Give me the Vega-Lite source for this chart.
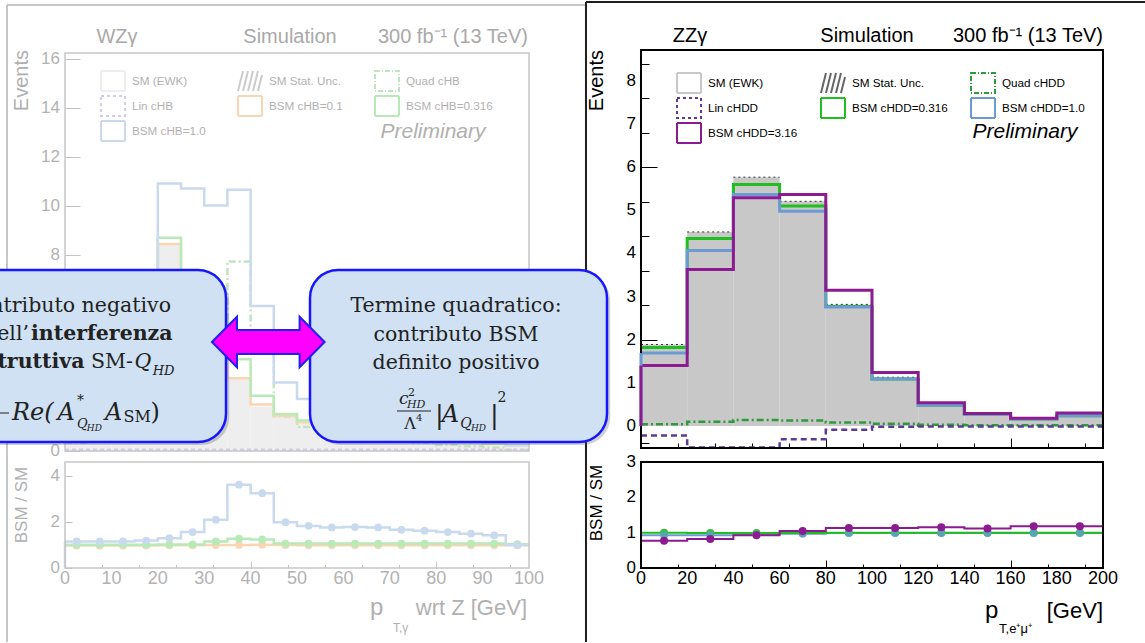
{
"$schema": "https://vega.github.io/schema/vega-lite/v6.json",
"background": "white",
"padding": 0,
"autosize": {"type": "pad"},
"bounds": "flush",
"columns": 2,
"spacing": {"row": 11, "column": 0},
"config": {"view": {"stroke": null}, "font": "Liberation Sans"},
"resolve": {"scale": {"fill": "independent", "stroke": "independent", "shape": "independent", "strokeDash": "independent"}},
"datasets": {
"one": [{"k": 1}],
"t200": [{"v":0},{"v":20},{"v":40},{"v":60},{"v":80},{"v":100},{"v":120},{"v":140},{"v":160},{"v":180},{"v":200}],
"t100": [{"v":0},{"v":10},{"v":20},{"v":30},{"v":40},{"v":50},{"v":60},{"v":70},{"v":80},{"v":90},{"v":100}],
"t8": [{"v":0},{"v":1},{"v":2},{"v":3},{"v":4},{"v":5},{"v":6},{"v":7},{"v":8}],
"t16": [{"v":0},{"v":8},{"v":10},{"v":12},{"v":14},{"v":16}],
"t3": [{"v":0},{"v":1},{"v":2},{"v":3}],
"t4": [{"v":0},{"v":2},{"v":4}],
"lgz": [{"lg": "SM (EWK)"}, {"lg": "SM Stat. Unc."}, {"lg": "Quad cHDD"}, {"lg": "Lin cHDD"}, {"lg": "BSM cHDD=0.316"}, {"lg": "BSM cHDD=1.0"}, {"lg": "BSM cHDD=3.16"}],
"lgw": [{"lg": "SM (EWK)"}, {"lg": "SM Stat. Unc."}, {"lg": "Quad cHB"}, {"lg": "Lin cHB"}, {"lg": "BSM cHB=0.1"}, {"lg": "BSM cHB=0.316"}, {"lg": "BSM cHB=1.0"}],
"zz": [
{"i":0,"x0":0,"x1":20,"xc":10,"sm":1.82,"lo":1.75,"hi":1.89,"lin":-0.22,"quad":0.04,"g":1.82,"b":1.69,"p":1.40,"rg":1.0,"rb":0.93,"rp":0.77},
{"i":1,"x0":20,"x1":40,"xc":30,"sm":4.40,"lo":4.30,"hi":4.50,"lin":-0.50,"quad":0.10,"g":4.35,"b":4.07,"p":3.63,"rg":0.99,"rb":0.93,"rp":0.82},
{"i":2,"x0":40,"x1":60,"xc":50,"sm":5.66,"lo":5.55,"hi":5.77,"lin":-0.50,"quad":0.14,"g":5.60,"b":5.37,"p":5.29,"rg":0.99,"rb":0.95,"rp":0.93},
{"i":3,"x0":60,"x1":80,"xc":70,"sm":5.13,"lo":5.05,"hi":5.21,"lin":-0.31,"quad":0.13,"g":5.10,"b":4.98,"p":5.37,"rg":0.99,"rb":0.97,"rp":1.05},
{"i":4,"x0":80,"x1":100,"xc":90,"sm":2.78,"lo":2.74,"hi":2.82,"lin":-0.09,"quad":0.08,"g":2.77,"b":2.76,"p":3.15,"rg":1.0,"rb":0.99,"rp":1.13},
{"i":5,"x0":100,"x1":120,"xc":110,"sm":1.10,"lo":1.07,"hi":1.13,"lin":-0.02,"quad":0.05,"g":1.09,"b":1.09,"p":1.24,"rg":1.0,"rb":0.99,"rp":1.13},
{"i":6,"x0":120,"x1":140,"xc":130,"sm":0.49,"lo":0.47,"hi":0.51,"lin":-0.01,"quad":0.03,"g":0.48,"b":0.48,"p":0.54,"rg":1.0,"rb":0.99,"rp":1.15},
{"i":7,"x0":140,"x1":160,"xc":150,"sm":0.27,"lo":0.26,"hi":0.28,"lin":-0.01,"quad":0.02,"g":0.27,"b":0.27,"p":0.29,"rg":1.0,"rb":0.99,"rp":1.12},
{"i":8,"x0":160,"x1":180,"xc":170,"sm":0.16,"lo":0.15,"hi":0.17,"lin":-0.01,"quad":0.02,"g":0.16,"b":0.16,"p":0.18,"rg":1.0,"rb":0.99,"rp":1.18},
{"i":9,"x0":180,"x1":200,"xc":190,"sm":0.25,"lo":0.24,"hi":0.26,"lin":-0.01,"quad":0.02,"g":0.24,"b":0.24,"p":0.30,"rg":1.0,"rb":0.99,"rp":1.18}
],
"wz": [
{"i":0,"x0":0,"x1":5,"xc":2.5,"sm":2.0,"o":2.0,"g":2.04,"b":2.32,"lin":0.03,"quad":0.32,"ro":0.98,"rg":1.02,"rb":1.16},
{"i":1,"x0":5,"x1":10,"xc":7.5,"sm":3.4,"o":3.38,"g":3.47,"b":3.94,"lin":0.03,"quad":0.54,"ro":0.98,"rg":1.02,"rb":1.16},
{"i":2,"x0":10,"x1":15,"xc":12.5,"sm":4.8,"o":4.77,"g":4.9,"b":5.57,"lin":0.03,"quad":0.77,"ro":0.98,"rg":1.02,"rb":1.16},
{"i":3,"x0":15,"x1":20,"xc":17.5,"sm":6.0,"o":5.96,"g":6.12,"b":7.2,"lin":0.03,"quad":1.2,"ro":0.98,"rg":1.02,"rb":1.2},
{"i":4,"x0":20,"x1":25,"xc":22.5,"sm":8.4,"o":8.43,"g":8.68,"b":10.9,"lin":0.03,"quad":2.4,"ro":0.99,"rg":1.03,"rb":1.3},
{"i":5,"x0":25,"x1":30,"xc":27.5,"sm":6.8,"o":6.8,"g":7.0,"b":10.7,"lin":0.03,"quad":3.9,"ro":0.99,"rg":1.03,"rb":1.57},
{"i":6,"x0":30,"x1":35,"xc":32.5,"sm":4.75,"o":4.8,"g":5.5,"b":10.0,"lin":0.03,"quad":5.25,"ro":1.0,"rg":1.16,"rb":2.11},
{"i":7,"x0":35,"x1":40,"xc":37.5,"sm":2.92,"o":2.95,"g":3.73,"b":10.64,"lin":0.03,"quad":7.72,"ro":1.01,"rg":1.28,"rb":3.64},
{"i":8,"x0":40,"x1":45,"xc":42.5,"sm":1.8,"o":1.88,"g":2.24,"b":5.9,"lin":0.03,"quad":4.1,"ro":1.02,"rg":1.25,"rb":3.27},
{"i":9,"x0":45,"x1":50,"xc":47.5,"sm":1.39,"o":1.42,"g":1.49,"b":2.78,"lin":0.03,"quad":1.39,"ro":1.0,"rg":1.07,"rb":2.0},
{"i":10,"x0":50,"x1":55,"xc":52.5,"sm":1.14,"o":1.15,"g":1.22,"b":2.1,"lin":0.03,"quad":0.96,"ro":0.99,"rg":1.07,"rb":1.84},
{"i":11,"x0":55,"x1":60,"xc":57.5,"sm":0.95,"o":0.94,"g":1.01,"b":1.68,"lin":0.03,"quad":0.73,"ro":0.99,"rg":1.07,"rb":1.77},
{"i":12,"x0":60,"x1":65,"xc":62.5,"sm":0.82,"o":0.81,"g":0.87,"b":1.47,"lin":0.03,"quad":0.65,"ro":0.99,"rg":1.07,"rb":1.79},
{"i":13,"x0":65,"x1":70,"xc":67.5,"sm":0.7,"o":0.69,"g":0.75,"b":1.24,"lin":0.03,"quad":0.54,"ro":0.99,"rg":1.07,"rb":1.77},
{"i":14,"x0":70,"x1":75,"xc":72.5,"sm":0.6,"o":0.59,"g":0.64,"b":1.0,"lin":0.03,"quad":0.4,"ro":0.99,"rg":1.07,"rb":1.67},
{"i":15,"x0":75,"x1":80,"xc":77.5,"sm":0.5,"o":0.49,"g":0.53,"b":0.82,"lin":0.03,"quad":0.32,"ro":0.99,"rg":1.07,"rb":1.63},
{"i":16,"x0":80,"x1":85,"xc":82.5,"sm":0.42,"o":0.41,"g":0.45,"b":0.66,"lin":0.03,"quad":0.24,"ro":0.99,"rg":1.07,"rb":1.57},
{"i":17,"x0":85,"x1":90,"xc":87.5,"sm":0.35,"o":0.35,"g":0.37,"b":0.52,"lin":0.03,"quad":0.17,"ro":0.99,"rg":1.07,"rb":1.5},
{"i":18,"x0":90,"x1":95,"xc":92.5,"sm":0.28,"o":0.28,"g":0.3,"b":0.4,"lin":0.03,"quad":0.12,"ro":0.99,"rg":1.07,"rb":1.43},
{"i":19,"x0":95,"x1":100,"xc":97.5,"sm":0.22,"o":0.22,"g":0.23,"b":0.22,"lin":0.03,"quad":0.02,"ro":0.99,"rg":1.04,"rb":1.0}
]
},
"concat": [
{"width": 560, "height": 451, "data": {"name": "wz"}, "layer": [
{"mark": {"type": "rect", "color": "#eeeeee"},
 "encoding": {
  "x": {"field": "x0", "type": "quantitative", "scale": {"domain": [-14.01, 106.68], "nice": false, "zero": false},
   "axis": {"orient": "bottom", "values": [0,2,4,6,8,10,12,14,16,18,20,22,24,26,28,30,32,34,36,38,40,42,44,46,48,50,52,54,56,58,60,62,64,66,68,70,72,74,76,78,80,82,84,86,88,90,92,94,96,98,100], "labels": false, "domain": false, "grid": false, "title": null, "tickColor": "#c4c4c4", "tickSize": {"condition": {"test": "datum.value % 10 === 0", "value": -12}, "value": -6}}},
  "x2": {"field": "x1"},
  "y": {"field": "sm", "type": "quantitative", "scale": {"domain": [-0.02, 18.39], "nice": false, "zero": false},
   "axis": {"orient": "left", "offset": -65, "values": [0,0.5,1,1.5,2,2.5,3,3.5,4,4.5,5,5.5,6,6.5,7,7.5,8,8.5,9,9.5,10,10.5,11,11.5,12,12.5,13,13.5,14,14.5,15,15.5,16], "labels": false, "domain": false, "grid": false, "title": null, "tickColor": "#c4c4c4", "tickSize": {"condition": {"test": "datum.value % 2 === 0", "value": -15}, "value": -8}}},
  "y2": {"datum": 0}
 }},
{"transform": [{"fold": ["x0", "x1"], "as": ["edge", "xe"]}], "mark": {"type": "line", "color": "#c2e3c2", "strokeWidth": 2.5, "strokeDash": [7, 3, 2, 3]},
 "encoding": {"x": {"field": "xe", "type": "quantitative"}, "y": {"field": "quad", "type": "quantitative"}, "order": [{"field": "i", "type": "quantitative"}, {"field": "edge", "type": "ordinal"}]}},
{"transform": [{"fold": ["x0", "x1"], "as": ["edge", "xe"]}], "mark": {"type": "line", "color": "#d6cbe7", "strokeWidth": 2.5, "strokeDash": [4, 3]},
 "encoding": {"x": {"field": "xe", "type": "quantitative"}, "y": {"field": "lin", "type": "quantitative"}, "order": [{"field": "i", "type": "quantitative"}, {"field": "edge", "type": "ordinal"}]}},
{"transform": [{"fold": ["x0", "x1"], "as": ["edge", "xe"]}], "mark": {"type": "line", "color": "#fbd5b1", "strokeWidth": 2.5},
 "encoding": {"x": {"field": "xe", "type": "quantitative"}, "y": {"field": "o", "type": "quantitative"}, "order": [{"field": "i", "type": "quantitative"}, {"field": "edge", "type": "ordinal"}]}},
{"transform": [{"fold": ["x0", "x1"], "as": ["edge", "xe"]}], "mark": {"type": "line", "color": "#b7eab7", "strokeWidth": 2.5},
 "encoding": {"x": {"field": "xe", "type": "quantitative"}, "y": {"field": "g", "type": "quantitative"}, "order": [{"field": "i", "type": "quantitative"}, {"field": "edge", "type": "ordinal"}]}},
{"transform": [{"fold": ["x0", "x1"], "as": ["edge", "xe"]}], "mark": {"type": "line", "color": "#c9daee", "strokeWidth": 2.5},
 "encoding": {"x": {"field": "xe", "type": "quantitative"}, "y": {"field": "b", "type": "quantitative"}, "order": [{"field": "i", "type": "quantitative"}, {"field": "edge", "type": "ordinal"}]}},
{"data": {"name": "one"}, "mark": {"type": "rect", "fillOpacity": 0, "stroke": "#c6c6c6", "strokeWidth": 1.5},
 "encoding": {"x": {"datum": 0}, "x2": {"datum": 100}, "y": {"datum": -0.02}, "y2": {"datum": 16.226}}},
{"data": {"name": "t16"}, "mark": {"type": "text", "align": "right", "baseline": "middle", "dx": -5, "fontSize": 17, "color": "#b2b2b2"}, "encoding": {"x": {"datum": 0}, "y": {"field": "v", "type": "quantitative"}, "text": {"field": "v", "type": "quantitative"}}},
{"data": {"name": "lgw"}, "mark": {"type": "point", "opacity": 0, "filled": true},
 "encoding": {
  "fill": {"field": "lg", "type": "nominal", "scale": {"domain": ["SM (EWK)", "SM Stat. Unc.", "Quad cHB", "Lin cHB", "BSM cHB=0.1", "BSM cHB=0.316", "BSM cHB=1.0"], "range": ["#eeeeee", "transparent", "transparent", "transparent", "transparent", "transparent", "transparent"]},
   "legend": {"title": null, "orient": "none", "direction": "horizontal", "legendX": 102, "legendY": 70, "columns": 3, "columnPadding": 28, "rowPadding": -4.5, "symbolSize": 400, "symbolStrokeWidth": 2, "labelFontSize": 11.7, "labelColor": "#b2b2b2", "labelOffset": 8, "labelLimit": 200}},
  "stroke": {"field": "lg", "type": "nominal", "scale": {"domain": ["SM (EWK)", "SM Stat. Unc.", "Quad cHB", "Lin cHB", "BSM cHB=0.1", "BSM cHB=0.316", "BSM cHB=1.0"], "range": ["#eeeeee", "#cccccc", "#c2e3c2", "#d6cbe7", "#fbd5b1", "#b7eab7", "#c9daee"]},
   "legend": {"title": null, "orient": "none", "direction": "horizontal", "legendX": 102, "legendY": 70, "columns": 3, "columnPadding": 28, "rowPadding": -4.5, "symbolSize": 400, "symbolStrokeWidth": 2, "labelFontSize": 11.7, "labelColor": "#b2b2b2", "labelOffset": 8, "labelLimit": 200}},
  "shape": {"field": "lg", "type": "nominal", "scale": {"domain": ["SM (EWK)", "SM Stat. Unc.", "Quad cHB", "Lin cHB", "BSM cHB=0.1", "BSM cHB=0.316", "BSM cHB=1.0"], "range": ["M-1.2,-1H1.2V1H-1.2Z", "M-1.2,1L-0.7,-1M-0.7,1L-0.2,-1M-0.2,1L0.3,-1M0.3,1L0.8,-1M0.8,1L1.2,-0.6", "M-1.2,-1H1.2V1H-1.2Z", "M-1.2,-1H1.2V1H-1.2Z", "M-1.2,-1H1.2V1H-1.2Z", "M-1.2,-1H1.2V1H-1.2Z", "M-1.2,-1H1.2V1H-1.2Z"]},
   "legend": {"title": null, "orient": "none", "direction": "horizontal", "legendX": 102, "legendY": 70, "columns": 3, "columnPadding": 28, "rowPadding": -4.5, "symbolSize": 400, "symbolStrokeWidth": 2, "labelFontSize": 11.7, "labelColor": "#b2b2b2", "labelOffset": 8, "labelLimit": 200}},
  "strokeDash": {"field": "lg", "type": "nominal", "scale": {"domain": ["SM (EWK)", "SM Stat. Unc.", "Quad cHB", "Lin cHB", "BSM cHB=0.1", "BSM cHB=0.316", "BSM cHB=1.0"], "range": [[1, 0], [1, 0], [5, 2, 1, 2], [3, 3], [1, 0], [1, 0], [1, 0]]},
   "legend": {"title": null, "orient": "none", "direction": "horizontal", "legendX": 102, "legendY": 70, "columns": 3, "columnPadding": 28, "rowPadding": -4.5, "symbolSize": 400, "symbolStrokeWidth": 2, "labelFontSize": 11.7, "labelColor": "#b2b2b2", "labelOffset": 8, "labelLimit": 200}}
 }},
{"data": {"name": "one"}, "mark": {"type": "text", "text": "WZγ", "fontSize": 20, "align": "center", "baseline": "alphabetic", "color": "#a9a9a9"}, "encoding": {"x": {"datum": 11.21}, "y": {"datum": 16.635}}},
{"data": {"name": "one"}, "mark": {"type": "text", "text": "Simulation", "fontSize": 20, "align": "center", "baseline": "alphabetic", "color": "#a9a9a9"}, "encoding": {"x": {"datum": 48.49}, "y": {"datum": 16.635}}},
{"data": {"name": "one"}, "mark": {"type": "text", "text": "300 fb⁻¹ (13 TeV)", "fontSize": 20, "align": "right", "baseline": "alphabetic", "color": "#a9a9a9"}, "encoding": {"x": {"datum": 99.78}, "y": {"datum": 16.635}}},
{"data": {"name": "one"}, "mark": {"type": "text", "text": "Preliminary", "fontSize": 21, "fontStyle": "italic", "align": "center", "baseline": "alphabetic", "color": "#b0b0b0"}, "encoding": {"x": {"datum": 79.31}, "y": {"datum": 12.757}}},
{"data": {"name": "one"}, "mark": {"type": "text", "text": "Events", "fontSize": 20, "angle": 270, "align": "right", "baseline": "middle", "color": "#b0b0b0"}, "encoding": {"x": {"datum": -9.27}, "y": {"datum": 16.35}}},
{"data": {"name": "one"}, "mark": {"type": "rule", "color": "#b4b4b4", "strokeWidth": 1.5}, "encoding": {"x": {"datum": -12.5}, "y": {"datum": 18.186}, "y2": {"datum": -7.82}}},
{"data": {"name": "one"}, "mark": {"type": "rule", "color": "#b4b4b4", "strokeWidth": 1.5}, "encoding": {"x": {"datum": -12.5}, "x2": {"datum": 112.07}, "y": {"datum": 18.186}}},
{"data": {"name": "one"}, "mark": {"type": "rule", "color": "#1e1e1e", "strokeWidth": 2}, "encoding": {"x": {"datum": 112.28}, "y": {"datum": 18.308}, "y2": {"datum": -7.82}}},
{"data": {"name": "one"}, "mark": {"type": "rule", "color": "#1e1e1e", "strokeWidth": 2}, "encoding": {"x": {"datum": 112.28}, "x2": {"datum": 232.76}, "y": {"datum": 18.308}}},
{"data": {"name": "one"}, "mark": {"type": "rect", "fill": "#555555", "opacity": 0.28, "cornerRadius": 28, "clip": true}, "encoding": {"x": {"datum": -28.7}, "x2": {"datum": 35.4}, "y": {"datum": 7.24}, "y2": {"datum": 0.22}}},
{"data": {"name": "one"}, "mark": {"type": "rect", "fill": "#555555", "opacity": 0.28, "cornerRadius": 28}, "encoding": {"x": {"datum": 53.45}, "x2": {"datum": 117.5}, "y": {"datum": 7.24}, "y2": {"datum": 0.22}}},
{"data": {"name": "one"}, "mark": {"type": "rect", "fill": "#cfe1f3", "stroke": "#1717ff", "strokeWidth": 2.5, "cornerRadius": 28, "clip": true}, "encoding": {"x": {"datum": -29.31}, "x2": {"datum": 34.70}, "y": {"datum": 7.368}, "y2": {"datum": 0.347}}},
{"data": {"name": "one"}, "mark": {"type": "rect", "fill": "#cfe1f3", "stroke": "#1717ff", "strokeWidth": 2.5, "cornerRadius": 28}, "encoding": {"x": {"datum": 52.80}, "x2": {"datum": 116.81}, "y": {"datum": 7.368}, "y2": {"datum": 0.347}}},
{"data": {"name": "one"}, "mark": {"type": "point", "shape": "M-1,0L-0.556,-0.448L-0.556,-0.213L0.556,-0.213L0.556,-0.448L1,0L0.556,0.448L0.556,0.213L-0.556,0.213L-0.556,0.448Z", "size": 12679, "filled": true, "fill": "#ff00ff", "stroke": "#2020f0", "strokeWidth": 2, "opacity": 1}, "encoding": {"x": {"datum": 43.81}, "y": {"datum": 4.43}}},
{"data": {"name": "one"}, "mark": {"type": "text", "text": ["Termine quadratico:", "contributo BSM", "definito positivo"], "lineHeight": 28.5, "font": "DejaVu Serif", "fontSize": 20.5, "align": "center", "baseline": "alphabetic", "color": "#222222"}, "encoding": {"x": {"datum": 84.27}, "y": {"datum": 5.654}}},
{"data": {"name": "one"}, "mark": {"type": "text", "text": "c", "font": "DejaVu Serif", "fontStyle": "italic", "fontSize": 17, "align": "left", "baseline": "alphabetic", "color": "#222222"}, "encoding": {"x": {"datum": 71.98}, "y": {"datum": 1.898}}},
{"data": {"name": "one"}, "mark": {"type": "text", "text": "2", "font": "DejaVu Serif", "fontSize": 11, "align": "left", "baseline": "alphabetic", "color": "#222222"}, "encoding": {"x": {"datum": 73.92}, "y": {"datum": 2.225}}},
{"data": {"name": "one"}, "mark": {"type": "text", "text": "HD", "font": "DejaVu Serif", "fontStyle": "italic", "fontSize": 11, "align": "left", "baseline": "alphabetic", "color": "#222222"}, "encoding": {"x": {"datum": 73.71}, "y": {"datum": 1.735}}},
{"data": {"name": "one"}, "mark": {"type": "rule", "color": "#222222", "strokeWidth": 1.2}, "encoding": {"x": {"datum": 71.55}, "x2": {"datum": 78.88}, "y": {"datum": 1.612}}},
{"data": {"name": "one"}, "mark": {"type": "text", "text": "Λ", "font": "DejaVu Serif", "fontSize": 16, "align": "center", "baseline": "alphabetic", "color": "#222222"}, "encoding": {"x": {"datum": 74.35}, "y": {"datum": 0.878}}},
{"data": {"name": "one"}, "mark": {"type": "text", "text": "4", "font": "DejaVu Serif", "fontSize": 10, "align": "left", "baseline": "alphabetic", "color": "#222222"}, "encoding": {"x": {"datum": 75.65}, "y": {"datum": 1.204}}},
{"data": {"name": "one"}, "mark": {"type": "text", "text": "|", "font": "DejaVu Serif", "fontSize": 26, "align": "left", "baseline": "alphabetic", "color": "#222222"}, "encoding": {"x": {"datum": 79.74}, "y": {"datum": 1.1}}},
{"data": {"name": "one"}, "mark": {"type": "text", "text": "A", "font": "DejaVu Serif", "fontStyle": "italic", "fontSize": 24, "align": "left", "baseline": "alphabetic", "color": "#222222"}, "encoding": {"x": {"datum": 81.2}, "y": {"datum": 1.16}}},
{"data": {"name": "one"}, "mark": {"type": "text", "text": "Q", "font": "DejaVu Serif", "fontStyle": "italic", "fontSize": 14, "align": "left", "baseline": "alphabetic", "color": "#222222"}, "encoding": {"x": {"datum": 85.2}, "y": {"datum": 0.918}}},
{"data": {"name": "one"}, "mark": {"type": "text", "text": "HD", "font": "DejaVu Serif", "fontStyle": "italic", "fontSize": 9, "align": "left", "baseline": "alphabetic", "color": "#222222"}, "encoding": {"x": {"datum": 87.5}, "y": {"datum": 0.796}}},
{"data": {"name": "one"}, "mark": {"type": "text", "text": "|", "font": "DejaVu Serif", "fontSize": 26, "align": "left", "baseline": "alphabetic", "color": "#222222"}, "encoding": {"x": {"datum": 91.6}, "y": {"datum": 1.1}}},
{"data": {"name": "one"}, "mark": {"type": "text", "text": "2", "font": "DejaVu Serif", "fontSize": 14, "align": "left", "baseline": "alphabetic", "color": "#222222"}, "encoding": {"x": {"datum": 93.2}, "y": {"datum": 1.98}}},
{"data": {"name": "one"}, "mark": {"type": "text", "text": "Contributo negativo", "font": "DejaVu Serif", "fontSize": 20.5, "align": "right", "baseline": "alphabetic", "color": "#222222", "clip": true}, "encoding": {"x": {"datum": 22.84}, "y": {"datum": 5.654}}},
{"data": {"name": "one"}, "mark": {"type": "text", "text": "dell’", "font": "DejaVu Serif", "fontSize": 20.5, "align": "right", "baseline": "alphabetic", "color": "#222222", "clip": true}, "encoding": {"x": {"datum": -7.76}, "y": {"datum": 4.511}}},
{"data": {"name": "one"}, "mark": {"type": "text", "text": "interferenza", "font": "DejaVu Serif", "fontWeight": "bold", "fontSize": 20.5, "align": "left", "baseline": "alphabetic", "color": "#222222", "clip": true}, "encoding": {"x": {"datum": -7.33}, "y": {"datum": 4.511}}},
{"data": {"name": "one"}, "mark": {"type": "text", "text": "distruttiva", "font": "DejaVu Serif", "fontWeight": "bold", "fontSize": 20.5, "align": "right", "baseline": "alphabetic", "color": "#222222", "clip": true}, "encoding": {"x": {"datum": 4.2}, "y": {"datum": 3.368}}},
{"data": {"name": "one"}, "mark": {"type": "text", "text": "SM-", "font": "DejaVu Serif", "fontSize": 20.5, "align": "left", "baseline": "alphabetic", "color": "#222222", "clip": true}, "encoding": {"x": {"datum": 5.6}, "y": {"datum": 3.368}}},
{"data": {"name": "one"}, "mark": {"type": "text", "text": "Q", "font": "DejaVu Serif", "fontStyle": "italic", "fontSize": 20.5, "align": "left", "baseline": "alphabetic", "color": "#222222", "clip": true}, "encoding": {"x": {"datum": 15.0}, "y": {"datum": 3.368}}},
{"data": {"name": "one"}, "mark": {"type": "text", "text": "HD", "font": "DejaVu Serif", "fontStyle": "italic", "fontSize": 13, "align": "left", "baseline": "alphabetic", "color": "#222222", "clip": true}, "encoding": {"x": {"datum": 18.9}, "y": {"datum": 3.082}}},
{"data": {"name": "one"}, "mark": {"type": "rule", "color": "#222222", "strokeWidth": 1.2, "clip": true}, "encoding": {"x": {"datum": -22.63}, "x2": {"datum": -12.07}, "y": {"datum": 1.531}}},
{"data": {"name": "one"}, "mark": {"type": "text", "text": "Re(", "font": "DejaVu Serif", "fontStyle": "italic", "fontSize": 24, "align": "left", "baseline": "alphabetic", "color": "#222222", "clip": true}, "encoding": {"x": {"datum": -11.42}, "y": {"datum": 1.245}}},
{"data": {"name": "one"}, "mark": {"type": "text", "text": "A", "font": "DejaVu Serif", "fontStyle": "italic", "fontSize": 24, "align": "left", "baseline": "alphabetic", "color": "#222222", "clip": true}, "encoding": {"x": {"datum": -1.6}, "y": {"datum": 1.245}}},
{"data": {"name": "one"}, "mark": {"type": "text", "text": "*", "font": "DejaVu Serif", "fontSize": 14, "align": "left", "baseline": "alphabetic", "color": "#222222", "clip": true}, "encoding": {"x": {"datum": 2.6}, "y": {"datum": 1.858}}},
{"data": {"name": "one"}, "mark": {"type": "text", "text": "Q", "font": "DejaVu Serif", "fontStyle": "italic", "fontSize": 13, "align": "left", "baseline": "alphabetic", "color": "#222222", "clip": true}, "encoding": {"x": {"datum": 2.6}, "y": {"datum": 0.918}}},
{"data": {"name": "one"}, "mark": {"type": "text", "text": "HD", "font": "DejaVu Serif", "fontStyle": "italic", "fontSize": 9, "align": "left", "baseline": "alphabetic", "color": "#222222", "clip": true}, "encoding": {"x": {"datum": 4.7}, "y": {"datum": 0.796}}},
{"data": {"name": "one"}, "mark": {"type": "text", "text": "A", "font": "DejaVu Serif", "fontStyle": "italic", "fontSize": 24, "align": "left", "baseline": "alphabetic", "color": "#222222", "clip": true}, "encoding": {"x": {"datum": 8.6}, "y": {"datum": 1.245}}},
{"data": {"name": "one"}, "mark": {"type": "text", "text": "SM", "font": "DejaVu Serif", "fontSize": 16, "align": "left", "baseline": "alphabetic", "color": "#222222", "clip": true}, "encoding": {"x": {"datum": 12.6}, "y": {"datum": 1.163}}},
{"data": {"name": "one"}, "mark": {"type": "text", "text": ")", "font": "DejaVu Serif", "fontSize": 24, "align": "left", "baseline": "alphabetic", "color": "#222222", "clip": true}, "encoding": {"x": {"datum": 18.4}, "y": {"datum": 1.245}}}
]},
{"width": 585, "height": 451, "data": {"name": "zz"}, "layer": [
{"mark": {"type": "rect", "color": "#c8c8c8"},
 "encoding": {
  "x": {"field": "x0", "type": "quantitative", "scale": {"domain": [-35.06, 218.18], "nice": false, "zero": false},
   "axis": {"orient": "bottom", "offset": -3, "values": [0,4,8,12,16,20,24,28,32,36,40,44,48,52,56,60,64,68,72,76,80,84,88,92,96,100,104,108,112,116,120,124,128,132,136,140,144,148,152,156,160,164,168,172,176,180,184,188,192,196,200], "labels": false, "domain": false, "grid": false, "title": null, "tickColor": "#000000", "tickSize": {"condition": {"test": "datum.value % 20 === 0", "value": -10}, "value": -5}}},
  "x2": {"field": "x1"},
  "y": {"field": "sm", "type": "quantitative", "scale": {"domain": [-0.58, 9.878], "nice": false, "zero": false},
   "axis": {"orient": "left", "offset": -81, "values": [-0.4,-0.2,0,0.2,0.4,0.6,0.8,1,1.2,1.4,1.6,1.8,2,2.2,2.4,2.6,2.8,3,3.2,3.4,3.6,3.8,4,4.2,4.4,4.6,4.8,5,5.2,5.4,5.6,5.8,6,6.2,6.4,6.6,6.8,7,7.2,7.4,7.6,7.8,8,8.2,8.4,8.6], "labels": false, "domain": false, "grid": false, "title": null, "tickColor": "#000000", "tickSize": {"condition": {"test": "abs(datum.value - round(datum.value)) < 0.01", "value": -16}, "value": -8}}},
  "y2": {"datum": 0}
 }},
{"mark": {"type": "rect", "color": "#c8c8c8"}, "encoding": {"x": {"field": "x0", "type": "quantitative"}, "x2": {"field": "x1"}, "y": {"field": "lo", "type": "quantitative"}, "y2": {"field": "hi"}}},
{"mark": {"type": "rule", "color": "#333333", "strokeWidth": 1, "strokeDash": [2, 3]}, "encoding": {"x": {"field": "x0", "type": "quantitative"}, "x2": {"field": "x1"}, "y": {"field": "hi", "type": "quantitative"}}},
{"transform": [{"fold": ["x0", "x1"], "as": ["edge", "xe"]}], "mark": {"type": "line", "color": "#2e9a3a", "strokeWidth": 2.5, "strokeDash": [7, 3, 2, 3]},
 "encoding": {"x": {"field": "xe", "type": "quantitative"}, "y": {"field": "quad", "type": "quantitative"}, "order": [{"field": "i", "type": "quantitative"}, {"field": "edge", "type": "ordinal"}]}},
{"transform": [{"fold": ["x0", "x1"], "as": ["edge", "xe"]}], "mark": {"type": "line", "color": "#5d3a97", "strokeWidth": 2.5, "strokeDash": [6, 4]},
 "encoding": {"x": {"field": "xe", "type": "quantitative"}, "y": {"field": "lin", "type": "quantitative"}, "order": [{"field": "i", "type": "quantitative"}, {"field": "edge", "type": "ordinal"}]}},
{"transform": [{"fold": ["x0", "x1"], "as": ["edge", "xe"]}], "mark": {"type": "line", "color": "#1fbf1f", "strokeWidth": 3},
 "encoding": {"x": {"field": "xe", "type": "quantitative"}, "y": {"field": "g", "type": "quantitative"}, "order": [{"field": "i", "type": "quantitative"}, {"field": "edge", "type": "ordinal"}]}},
{"transform": [{"fold": ["x0", "x1"], "as": ["edge", "xe"]}], "mark": {"type": "line", "color": "#6b9bd2", "strokeWidth": 3},
 "encoding": {"x": {"field": "xe", "type": "quantitative"}, "y": {"field": "b", "type": "quantitative"}, "order": [{"field": "i", "type": "quantitative"}, {"field": "edge", "type": "ordinal"}]}},
{"transform": [{"fold": ["x0", "x1"], "as": ["edge", "xe"]}], "mark": {"type": "line", "color": "#8c1a91", "strokeWidth": 3},
 "encoding": {"x": {"field": "xe", "type": "quantitative"}, "y": {"field": "p", "type": "quantitative"}, "order": [{"field": "i", "type": "quantitative"}, {"field": "edge", "type": "ordinal"}]}},
{"data": {"name": "one"}, "mark": {"type": "rect", "fillOpacity": 0, "stroke": "#000000", "strokeWidth": 2},
 "encoding": {"x": {"datum": 0}, "x2": {"datum": 200}, "y": {"datum": -0.51}, "y2": {"datum": 8.72}}},
{"transform": [{"filter": {"field": "i", "equal": 0}}], "mark": {"type": "rule", "color": "#6b9bd2", "strokeWidth": 3}, "encoding": {"x": {"field": "x0", "type": "quantitative"}, "y": {"field": "b", "type": "quantitative"}, "y2": {"datum": 0}}},
{"transform": [{"filter": {"field": "i", "equal": 0}}], "mark": {"type": "rule", "color": "#8c1a91", "strokeWidth": 3}, "encoding": {"x": {"field": "x0", "type": "quantitative"}, "y": {"field": "p", "type": "quantitative"}, "y2": {"datum": 0}}},
{"data": {"name": "t8"}, "mark": {"type": "text", "align": "right", "baseline": "middle", "dx": -5, "fontSize": 17, "color": "#000000"}, "encoding": {"x": {"datum": 0}, "y": {"field": "v", "type": "quantitative"}, "text": {"field": "v", "type": "quantitative"}}},
{"data": {"name": "lgz"}, "mark": {"type": "point", "opacity": 0, "filled": true},
 "encoding": {
  "fill": {"field": "lg", "type": "nominal", "scale": {"domain": ["SM (EWK)", "SM Stat. Unc.", "Quad cHDD", "Lin cHDD", "BSM cHDD=0.316", "BSM cHDD=1.0", "BSM cHDD=3.16"], "range": ["#c8c8c8", "transparent", "transparent", "transparent", "transparent", "transparent", "transparent"]},
   "legend": {"title": null, "orient": "none", "direction": "horizontal", "legendX": 118, "legendY": 72, "columns": 3, "columnPadding": 19, "rowPadding": -4.5, "symbolSize": 400, "symbolStrokeWidth": 2, "labelFontSize": 11.7, "labelColor": "#000000", "labelOffset": 8, "labelLimit": 200}},
  "stroke": {"field": "lg", "type": "nominal", "scale": {"domain": ["SM (EWK)", "SM Stat. Unc.", "Quad cHDD", "Lin cHDD", "BSM cHDD=0.316", "BSM cHDD=1.0", "BSM cHDD=3.16"], "range": ["#c8c8c8", "#666666", "#2e9a3a", "#5d3a97", "#1fbf1f", "#6b9bd2", "#8c1a91"]},
   "legend": {"title": null, "orient": "none", "direction": "horizontal", "legendX": 118, "legendY": 72, "columns": 3, "columnPadding": 19, "rowPadding": -4.5, "symbolSize": 400, "symbolStrokeWidth": 2, "labelFontSize": 11.7, "labelColor": "#000000", "labelOffset": 8, "labelLimit": 200}},
  "shape": {"field": "lg", "type": "nominal", "scale": {"domain": ["SM (EWK)", "SM Stat. Unc.", "Quad cHDD", "Lin cHDD", "BSM cHDD=0.316", "BSM cHDD=1.0", "BSM cHDD=3.16"], "range": ["M-1.2,-1H1.2V1H-1.2Z", "M-1.2,1L-0.7,-1M-0.7,1L-0.2,-1M-0.2,1L0.3,-1M0.3,1L0.8,-1M0.8,1L1.2,-0.6", "M-1.2,-1H1.2V1H-1.2Z", "M-1.2,-1H1.2V1H-1.2Z", "M-1.2,-1H1.2V1H-1.2Z", "M-1.2,-1H1.2V1H-1.2Z", "M-1.2,-1H1.2V1H-1.2Z"]},
   "legend": {"title": null, "orient": "none", "direction": "horizontal", "legendX": 118, "legendY": 72, "columns": 3, "columnPadding": 19, "rowPadding": -4.5, "symbolSize": 400, "symbolStrokeWidth": 2, "labelFontSize": 11.7, "labelColor": "#000000", "labelOffset": 8, "labelLimit": 200}},
  "strokeDash": {"field": "lg", "type": "nominal", "scale": {"domain": ["SM (EWK)", "SM Stat. Unc.", "Quad cHDD", "Lin cHDD", "BSM cHDD=0.316", "BSM cHDD=1.0", "BSM cHDD=3.16"], "range": [[1, 0], [1, 0], [5, 2, 1, 2], [3, 3], [1, 0], [1, 0], [1, 0]]},
   "legend": {"title": null, "orient": "none", "direction": "horizontal", "legendX": 118, "legendY": 72, "columns": 3, "columnPadding": 19, "rowPadding": -4.5, "symbolSize": 400, "symbolStrokeWidth": 2, "labelFontSize": 11.7, "labelColor": "#000000", "labelOffset": 8, "labelLimit": 200}}
 }},
{"data": {"name": "one"}, "mark": {"type": "text", "text": "ZZγ", "fontSize": 20, "align": "center", "baseline": "alphabetic", "color": "#000000"}, "encoding": {"x": {"datum": 21.22}, "y": {"datum": 8.904}}},
{"data": {"name": "one"}, "mark": {"type": "text", "text": "Simulation", "fontSize": 20, "align": "center", "baseline": "alphabetic", "color": "#000000"}, "encoding": {"x": {"datum": 97.84}, "y": {"datum": 8.904}}},
{"data": {"name": "one"}, "mark": {"type": "text", "text": "300 fb⁻¹ (13 TeV)", "fontSize": 20, "align": "right", "baseline": "alphabetic", "color": "#000000"}, "encoding": {"x": {"datum": 200.0}, "y": {"datum": 8.904}}},
{"data": {"name": "one"}, "mark": {"type": "text", "text": "Preliminary", "fontSize": 21, "fontStyle": "italic", "align": "center", "baseline": "alphabetic", "color": "#000000"}, "encoding": {"x": {"datum": 166.24}, "y": {"datum": 6.678}}},
{"data": {"name": "one"}, "mark": {"type": "text", "text": "Events", "fontSize": 20, "angle": 270, "align": "right", "baseline": "middle", "color": "#000000"}, "encoding": {"x": {"datum": -19.04}, "y": {"datum": 8.719}}}
]},
{"width": 560, "height": 106, "data": {"name": "wz"}, "layer": [
{"transform": [{"fold": ["x0", "x1"], "as": ["edge", "xe"]}], "mark": {"type": "line", "color": "#fbd5b1", "strokeWidth": 2.5},
 "encoding": {
  "x": {"field": "xe", "type": "quantitative", "scale": {"domain": [-14.01, 106.68], "nice": false, "zero": false},
   "axis": {"orient": "bottom", "values": [0,2,4,6,8,10,12,14,16,18,20,22,24,26,28,30,32,34,36,38,40,42,44,46,48,50,52,54,56,58,60,62,64,66,68,70,72,74,76,78,80,82,84,86,88,90,92,94,96,98,100], "labels": false, "domain": false, "grid": false, "title": null, "tickColor": "#c4c4c4", "tickSize": {"condition": {"test": "datum.value % 10 === 0", "value": -7}, "value": -3.5}}},
  "y": {"field": "ro", "type": "quantitative", "scale": {"domain": [0, 4.63], "nice": false, "zero": false},
   "axis": {"orient": "left", "offset": -65, "values": [0, 2, 4], "labels": false, "domain": false, "grid": false, "title": null, "tickColor": "#c4c4c4", "tickSize": -7}},
  "order": [{"field": "i", "type": "quantitative"}, {"field": "edge", "type": "ordinal"}]}},
{"transform": [{"fold": ["x0", "x1"], "as": ["edge", "xe"]}], "mark": {"type": "line", "color": "#b7eab7", "strokeWidth": 2.5},
 "encoding": {"x": {"field": "xe", "type": "quantitative"}, "y": {"field": "rg", "type": "quantitative"}, "order": [{"field": "i", "type": "quantitative"}, {"field": "edge", "type": "ordinal"}]}},
{"transform": [{"fold": ["x0", "x1"], "as": ["edge", "xe"]}], "mark": {"type": "line", "color": "#c9daee", "strokeWidth": 2.5},
 "encoding": {"x": {"field": "xe", "type": "quantitative"}, "y": {"field": "rb", "type": "quantitative"}, "order": [{"field": "i", "type": "quantitative"}, {"field": "edge", "type": "ordinal"}]}},
{"transform": [{"filter": {"field": "i", "equal": 0}}], "mark": {"type": "rule", "color": "#c9daee", "strokeWidth": 2.5}, "encoding": {"x": {"field": "x0", "type": "quantitative"}, "y": {"field": "rb", "type": "quantitative"}, "y2": {"datum": 0}}},
{"mark": {"type": "point", "filled": true, "size": 60, "color": "#fbd5b1", "opacity": 1}, "encoding": {"x": {"field": "xc", "type": "quantitative"}, "y": {"field": "ro", "type": "quantitative"}}},
{"mark": {"type": "point", "filled": true, "size": 60, "color": "#b7eab7", "opacity": 1}, "encoding": {"x": {"field": "xc", "type": "quantitative"}, "y": {"field": "rg", "type": "quantitative"}}},
{"mark": {"type": "point", "filled": true, "size": 60, "color": "#c9daee", "opacity": 1}, "encoding": {"x": {"field": "xc", "type": "quantitative"}, "y": {"field": "rb", "type": "quantitative"}}},
{"data": {"name": "one"}, "mark": {"type": "rect", "fillOpacity": 0, "stroke": "#c6c6c6", "strokeWidth": 1.5},
 "encoding": {"x": {"datum": 0}, "x2": {"datum": 100}, "y": {"datum": 0}, "y2": {"datum": 4.63}}},
{"data": {"name": "t4"}, "mark": {"type": "text", "align": "right", "baseline": "middle", "dx": -5, "fontSize": 17, "color": "#b2b2b2"}, "encoding": {"x": {"datum": 0}, "y": {"field": "v", "type": "quantitative"}, "text": {"field": "v", "type": "quantitative"}}},
{"data": {"name": "t100"}, "mark": {"type": "text", "align": "center", "baseline": "top", "dy": 2, "fontSize": 18, "color": "#b2b2b2"}, "encoding": {"x": {"field": "v", "type": "quantitative"}, "y": {"datum": 0}, "text": {"field": "v", "type": "quantitative"}}},
{"data": {"name": "one"}, "mark": {"type": "text", "text": "BSM / SM", "fontSize": 17, "angle": 270, "align": "center", "baseline": "middle", "color": "#b0b0b0"}, "encoding": {"x": {"datum": -9.27}, "y": {"datum": 2.752}}},
{"data": {"name": "one"}, "mark": {"type": "text", "text": "p", "fontSize": 24, "align": "left", "baseline": "alphabetic", "color": "#b0b0b0"}, "encoding": {"x": {"datum": 65.73}, "y": {"datum": -2.05}}},
{"data": {"name": "one"}, "mark": {"type": "text", "text": "T,γ", "fontSize": 12, "align": "left", "baseline": "alphabetic", "color": "#b0b0b0"}, "encoding": {"x": {"datum": 70.69}, "y": {"datum": -2.8}}},
{"data": {"name": "one"}, "mark": {"type": "text", "text": "wrt Z [GeV]", "fontSize": 22, "align": "right", "baseline": "alphabetic", "color": "#b0b0b0"}, "encoding": {"x": {"datum": 99.57}, "y": {"datum": -2.05}}}
]},
{"width": 585, "height": 106, "data": {"name": "zz"}, "layer": [
{"transform": [{"fold": ["x0", "x1"], "as": ["edge", "xe"]}], "mark": {"type": "line", "color": "#6b9bd2", "strokeWidth": 2},
 "encoding": {
  "x": {"field": "xe", "type": "quantitative", "scale": {"domain": [-35.06, 218.18], "nice": false, "zero": false},
   "axis": {"orient": "bottom", "values": [0,4,8,12,16,20,24,28,32,36,40,44,48,52,56,60,64,68,72,76,80,84,88,92,96,100,104,108,112,116,120,124,128,132,136,140,144,148,152,156,160,164,168,172,176,180,184,188,192,196,200], "labels": false, "domain": false, "grid": false, "title": null, "tickColor": "#000000", "tickSize": {"condition": {"test": "datum.value % 20 === 0", "value": -8}, "value": -4}}},
  "y": {"field": "rb", "type": "quantitative", "scale": {"domain": [0, 3.0], "nice": false, "zero": false},
   "axis": {"orient": "left", "offset": -81, "values": [0, 1, 2, 3], "labels": false, "domain": false, "grid": false, "title": null, "tickColor": "#000000", "tickSize": -10}},
  "order": [{"field": "i", "type": "quantitative"}, {"field": "edge", "type": "ordinal"}]}},
{"transform": [{"fold": ["x0", "x1"], "as": ["edge", "xe"]}], "mark": {"type": "line", "color": "#1fbf1f", "strokeWidth": 2},
 "encoding": {"x": {"field": "xe", "type": "quantitative"}, "y": {"field": "rg", "type": "quantitative"}, "order": [{"field": "i", "type": "quantitative"}, {"field": "edge", "type": "ordinal"}]}},
{"transform": [{"fold": ["x0", "x1"], "as": ["edge", "xe"]}], "mark": {"type": "line", "color": "#8c1a91", "strokeWidth": 2},
 "encoding": {"x": {"field": "xe", "type": "quantitative"}, "y": {"field": "rp", "type": "quantitative"}, "order": [{"field": "i", "type": "quantitative"}, {"field": "edge", "type": "ordinal"}]}},
{"transform": [{"filter": {"field": "i", "equal": 0}}], "mark": {"type": "rule", "color": "#8c1a91", "strokeWidth": 2}, "encoding": {"x": {"field": "x0", "type": "quantitative"}, "y": {"field": "rp", "type": "quantitative"}, "y2": {"datum": 0}}},
{"mark": {"type": "point", "filled": true, "size": 64, "color": "#33c233", "opacity": 1}, "encoding": {"x": {"field": "xc", "type": "quantitative"}, "y": {"field": "rg", "type": "quantitative"}}},
{"mark": {"type": "point", "filled": true, "size": 64, "color": "#5aa2c4", "opacity": 0.85}, "encoding": {"x": {"field": "xc", "type": "quantitative"}, "y": {"field": "rb", "type": "quantitative"}}},
{"mark": {"type": "point", "filled": true, "size": 64, "color": "#8c1a91", "opacity": 1}, "encoding": {"x": {"field": "xc", "type": "quantitative"}, "y": {"field": "rp", "type": "quantitative"}}},
{"data": {"name": "one"}, "mark": {"type": "rect", "fillOpacity": 0, "stroke": "#000000", "strokeWidth": 2},
 "encoding": {"x": {"datum": 0}, "x2": {"datum": 200}, "y": {"datum": 0}, "y2": {"datum": 3.0}}},
{"data": {"name": "t3"}, "mark": {"type": "text", "align": "right", "baseline": "middle", "dx": -5, "fontSize": 17, "color": "#000000"}, "encoding": {"x": {"datum": 0}, "y": {"field": "v", "type": "quantitative"}, "text": {"field": "v", "type": "quantitative"}}},
{"data": {"name": "t200"}, "mark": {"type": "text", "align": "center", "baseline": "top", "dy": 2, "fontSize": 18, "color": "#000000"}, "encoding": {"x": {"field": "v", "type": "quantitative"}, "y": {"datum": 0}, "text": {"field": "v", "type": "quantitative"}}},
{"data": {"name": "one"}, "mark": {"type": "text", "text": "BSM / SM", "fontSize": 17, "angle": 270, "align": "center", "baseline": "middle", "color": "#000000"}, "encoding": {"x": {"datum": -19.04}, "y": {"datum": 1.84}}},
{"data": {"name": "one"}, "mark": {"type": "text", "text": "p", "fontSize": 24, "align": "left", "baseline": "alphabetic", "color": "#000000"}, "encoding": {"x": {"datum": 148.9}, "y": {"datum": -1.415}}},
{"data": {"name": "one"}, "mark": {"type": "text", "text": "T,e⁺μ⁺", "fontSize": 13, "align": "left", "baseline": "alphabetic", "color": "#000000"}, "encoding": {"x": {"datum": 155.0}, "y": {"datum": -1.84}}},
{"data": {"name": "one"}, "mark": {"type": "text", "text": "[GeV]", "fontSize": 22, "align": "right", "baseline": "alphabetic", "color": "#000000"}, "encoding": {"x": {"datum": 200.0}, "y": {"datum": -1.415}}}
]}
]
}
